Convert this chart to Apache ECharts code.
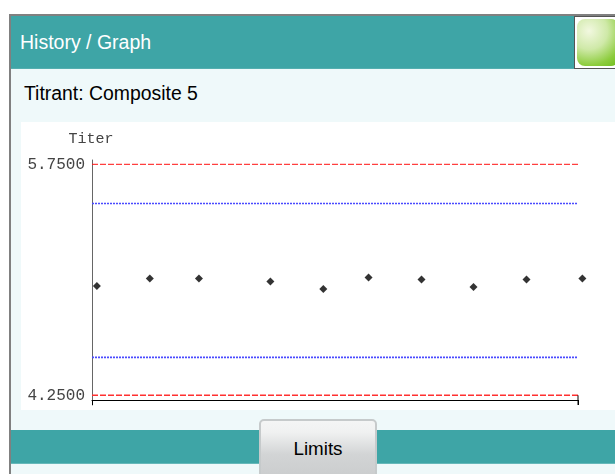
<!DOCTYPE html>
<html>
<head>
<meta charset="utf-8">
<script src="https://cdn.jsdelivr.net/npm/echarts@6/dist/echarts.min.js"></script>
<style>
  html, body { margin: 0; padding: 0; background: #fff; overflow: hidden; }
  #screen { position: absolute; left: 0; top: 0; width: 615px; height: 474px; overflow: hidden; font-family: "Liberation Sans", sans-serif; }
  #screen div { position: absolute; box-sizing: border-box; }
  .frame { left: 9px; top: 14px; width: 606px; height: 460px; background: #eff9fa; border-left: 2px solid #808080; border-top: 2px solid #808080; }
  .head { left: 11px; top: 16px; width: 604px; height: 53px; background: #3ea5a6; border-bottom: 1px solid #54aeaf; }
  .title { left: 20px; top: 31px; color: #fff; font-size: 19.5px; line-height: 23px; white-space: nowrap; }
  .sub { left: 24px; top: 83px; color: #000; font-size: 19.4px; line-height: 21px; white-space: nowrap; }
  .green-box { left: 574px; top: 16px; width: 45px; height: 53px; background: #fff; border: 1px solid #555; }
  .green { left: 577px; top: 19px; width: 42px; height: 47px; border-radius: 8px;
    background: radial-gradient(circle at 12px 12px, #f2f8e0 0, #cfe9a8 40%, #8ccc3c 75%, #6cbc18 100%); }
  .plot { left: 21px; top: 122px; width: 594px; height: 288px; background: #fff; }
  .bar { left: 11px; top: 430px; width: 604px; height: 34px; background: #3ea5a6; border-bottom: 1px solid #66b8b9; }
  .btn { left: 259px; top: 419px; width: 118px; height: 60px; border: 2px solid #c6cacb; border-radius: 5px;
    background: linear-gradient(#f4f5f5 0, #f0f1f1 20%, #d2d4d5 60%, #cbcdce 100%);
    color: #000; font-size: 18.8px; line-height: 55px; text-align: center; }
  #chart { left: 21px; top: 122px; width: 594px; height: 288px; }
</style>
</head>
<body>
<div id="screen">
  <div class="frame"></div>
  <div class="head"></div>
  <div class="title">History / Graph</div>
  <div class="green-box"></div>
  <div class="green"></div>
  <div class="sub">Titrant: Composite 5</div>
  <div class="plot"></div>
  <div id="chart"></div>
  <div class="bar"></div>
  <div class="btn">Limits</div>
</div>
<script>
const sampleX = [1.0, 11.9, 22.0, 36.7, 47.6, 56.9, 67.8, 78.5, 89.4, 100.9]
const titer = [4.959, 5.009, 5.009, 4.989, 4.940, 5.015, 5.002, 4.953, 5.002, 5.009]
const limitRed = [4.25, 5.75]
const limitBlue = [4.496, 5.496]
const yTicks = [4.25, 5.75]
const xEnds = [0, 100]
const yRange = [4.187, 5.778]

const chart = echarts.init(document.getElementById('chart'))

// one flat line per limit, straight across the axis
function limitLine(value, color, dash, width) {
  return {
    type: 'line',
    symbol: 'none',
    silent: true,
    lineStyle: { color, type: dash, width },
    data: xEnds.map(x => [x, value])
  }
}

chart.setOption({
  animation: false,
  backgroundColor: 'transparent',
  grid: { left: 71, right: 37, top: 38, bottom: 5 },
  xAxis: {
    type: 'value',
    min: xEnds[0],
    max: xEnds[1],
    offset: -5,
    axisLine: { lineStyle: { color: '#000', width: 1 } },
    axisTick: { show: true, customValues: xEnds, length: 5, lineStyle: { color: '#000' } },
    axisLabel: { show: false },
    splitLine: { show: false }
  },
  yAxis: {
    type: 'value',
    min: yRange[0],
    max: yRange[1],
    name: 'Titer',
    nameGap: 13,
    nameTextStyle: { fontFamily: 'Liberation Mono', fontSize: 15, color: '#444', padding: [0, 2, 0, 0] },
    axisLine: { show: true, onZero: false, lineStyle: { color: '#666', width: 1 } },
    axisTick: { show: false },
    axisLabel: { fontFamily: 'Liberation Mono', fontSize: 16, color: '#444', margin: 7, customValues: yTicks, formatter: v => v.toFixed(4) },
    splitLine: { show: false }
  },
  series: [
    limitLine(limitRed[0], '#ff3030', [6, 2], 1.5),
    limitLine(limitRed[1], '#ff1010', [6, 2], 1),
    ...limitBlue.map(v => limitLine(v, '#4a4aff', [2, 1], 1.6)),
    {
      // the short upright stroke closing the right end of the axis
      type: 'line',
      symbol: 'none',
      silent: true,
      clip: false,
      lineStyle: { color: '#000', width: 1 },
      data: [[xEnds[1], limitRed[0]], [xEnds[1], yRange[0]]]
    },
    {
      type: 'scatter',
      clip: false,
      symbol: 'diamond',
      symbolSize: 8,
      itemStyle: { color: '#000' },
      data: sampleX.map((x, i) => [x, titer[i]])
    }
  ]
})
</script>
</body>
</html>
